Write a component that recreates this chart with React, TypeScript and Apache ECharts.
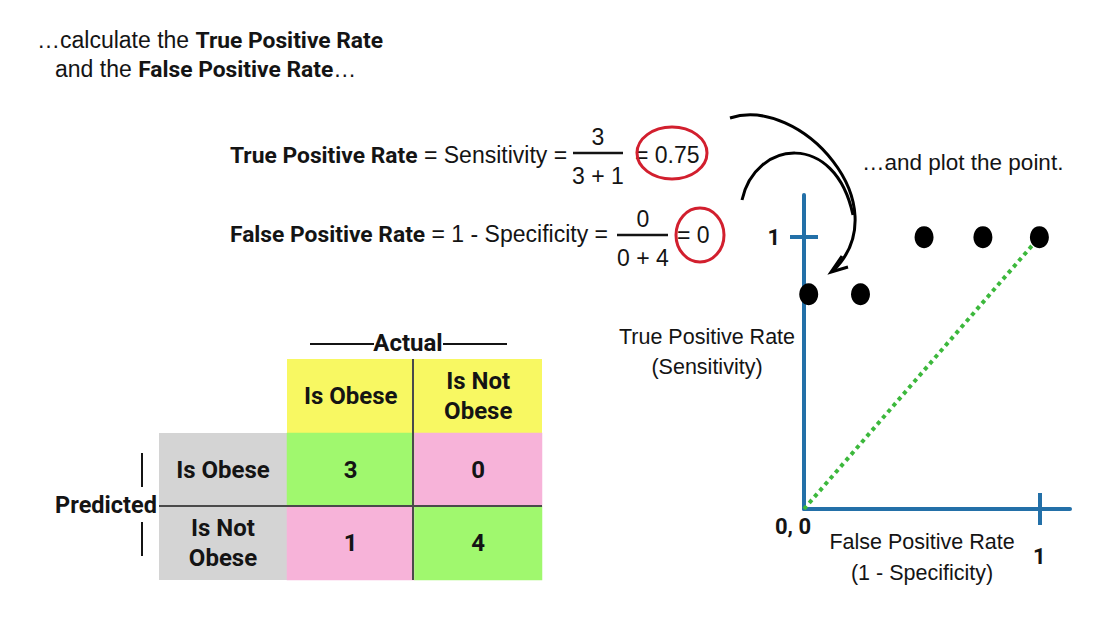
import React, { useEffect, useRef } from "react";
import * as echarts from "echarts";

// ROC points (False Positive Rate, True Positive Rate)
const fprValues = [0.02, 0.24, 0.51, 0.76, 1.0];
const tprValues = [0.79, 0.79, 1.0, 1.0, 1.0];
// Random-guess diagonal
const diagX = [0, 1];
const diagY = [0, 1];
// Confusion matrix
const actualLabels = ["Is Obese", "Is Not\nObese"];
const predictedLabels = ["Is Obese", "Is Not\nObese"];
const counts = [
  [3, 0],
  [1, 4],
];
const axisTickValues = [1];

const FONT = "'Liberation Sans', Arial, Helvetica, sans-serif";
const BFONT = "Roboto, 'Liberation Sans', Arial, sans-serif";
const INK = "#141414";
const BLUE = "#2370a8";

export default function App() {
  const ref = useRef<HTMLDivElement>(null);

  useEffect(() => {
    document.body.style.margin = "0";
    if (!ref.current) return;
    const chart = echarts.init(ref.current, null, { renderer: "svg" });

    const rich = (size: number, bsize: number) => ({
      r: { fontSize: size, fontFamily: FONT, fill: INK, color: INK },
      b: { fontSize: bsize, fontFamily: BFONT, fontWeight: "bold", fill: INK, color: INK },
    });

    const txt = (x: number, y: number, text: string, size: number, bold = false, align = "center", extra: any = {}) => ({
      type: "text",
      x,
      y,
      z: 50,
      style: {
        text,
        fill: INK,
        fontSize: size,
        fontFamily: bold ? BFONT : FONT,
        fontWeight: bold ? "bold" : "normal",
        align,
        verticalAlign: "middle",
        lineHeight: 30,
        ...extra,
      },
    });

    const ln = (x1: number, y1: number, x2: number, y2: number, w = 2, color = INK, z = 50) => ({
      type: "line",
      z,
      shape: { x1, y1, x2, y2 },
      style: { stroke: color, lineWidth: w },
    });

    const heatData: any[] = [];
    counts.forEach((row, r) =>
      row.forEach((v, c) => heatData.push([c, r, v, r === c ? 1 : 0]))
    );

    const tableLabel = { interval: 0, fontSize: 24, fontWeight: "bold", lineHeight: 30, color: INK, fontFamily: BFONT };

    const option: any = {
      animation: false,
      backgroundColor: "#ffffff",
      grid: [
        { left: 804, top: 195, width: 266, height: 314 },
        { left: 287, top: 433, width: 255, height: 147 },
      ],
      visualMap: {
        type: "piecewise",
        show: false,
        seriesIndex: 2,
        dimension: 3,
        pieces: [
          { value: 1, color: "#a0f86e" },
          { value: 0, color: "#f7b3d9" },
        ],
      },
      xAxis: [
        {
          type: "value",
          gridIndex: 0,
          min: 0,
          max: 1.13,
          position: "bottom",
          splitLine: { show: false },
          axisLine: { onZero: false, lineStyle: { color: BLUE, width: 4 } },
          axisTick: { show: true, customValues: axisTickValues, length: 16, lineStyle: { color: BLUE, width: 4 } },
          axisLabel: { customValues: axisTickValues, margin: 36, fontSize: 22, fontWeight: "bold", color: INK, fontFamily: BFONT },
          name: "False Positive Rate\n(1 - Specificity)",
          nameLocation: "middle",
          nameGap: 48,
          nameMoveOverlap: false,
          nameTextStyle: { fontSize: 21.5, fontFamily: FONT, color: INK, lineHeight: 31, align: "center", verticalAlign: "middle", padding: [0, 30, 0, 0] },
        },
        {
          type: "value",
          gridIndex: 0,
          min: 0,
          max: 1.13,
          position: "bottom",
          splitLine: { show: false },
          axisLine: { show: false, onZero: false },
          axisTick: { show: true, inside: true, customValues: axisTickValues, length: 16, lineStyle: { color: BLUE, width: 4 } },
          axisLabel: { show: false },
        },
        {
          type: "category",
          gridIndex: 1,
          data: actualLabels,
          position: "top",
          z: 20,
          axisLine: { show: false },
          axisTick: { show: false },
          splitLine: { show: false },
          axisLabel: { ...tableLabel, margin: 37, verticalAlign: "middle" },
        },
      ],
      yAxis: [
        {
          type: "value",
          gridIndex: 0,
          min: 0,
          max: 1.155,
          position: "left",
          splitLine: { show: false },
          axisLine: { onZero: false, lineStyle: { color: BLUE, width: 4 } },
          axisTick: { show: true, customValues: axisTickValues, length: 14, lineStyle: { color: BLUE, width: 4 } },
          axisLabel: { customValues: axisTickValues, margin: 24, fontSize: 22, fontWeight: "bold", color: INK, fontFamily: BFONT },
          name: "True Positive Rate\n(Sensitivity)",
          nameLocation: "middle",
          nameRotate: 0,
          nameGap: 97,
          nameMoveOverlap: false,
          nameTextStyle: { fontSize: 21.5, fontFamily: FONT, color: INK, lineHeight: 30, align: "center", verticalAlign: "middle" },
        },
        {
          type: "value",
          gridIndex: 0,
          min: 0,
          max: 1.155,
          position: "left",
          splitLine: { show: false },
          axisLine: { show: false, onZero: false },
          axisTick: { show: true, inside: true, customValues: axisTickValues, length: 14, lineStyle: { color: BLUE, width: 4 } },
          axisLabel: { show: false },
        },
        {
          type: "category",
          gridIndex: 1,
          data: predictedLabels,
          inverse: true,
          z: 20,
          axisLine: { show: false },
          axisTick: { show: false },
          splitLine: { show: false },
          axisLabel: { ...tableLabel, margin: 64, align: "center" },
        },
      ],
      series: [
        {
          type: "line",
          xAxisIndex: 0,
          yAxisIndex: 0,
          data: diagX.map((x, i) => [x, diagY[i]]),
          showSymbol: false,
          symbol: "none",
          lineStyle: { color: "#3cb83c", width: 4, type: [4, 4] },
          z: 3,
        },
        {
          type: "scatter",
          xAxisIndex: 0,
          yAxisIndex: 0,
          data: fprValues.map((x, i) => [x, tprValues[i]]),
          symbol: "circle",
          symbolSize: [19, 22],
          itemStyle: { color: "#000000", opacity: 1 },
          z: 4,
        },
        {
          type: "heatmap",
          xAxisIndex: 2,
          yAxisIndex: 2,
          data: heatData,
          encode: { x: 0, y: 1, value: 2 },
          label: {
            show: true,
            formatter: (p: any) => String(p.value[2]),
            fontSize: 24,
            fontWeight: "bold",
            color: INK,
            fontFamily: BFONT,
          },
          itemStyle: { borderWidth: 0 },
        },
      ],
      graphic: [
        {
          type: "text",
          x: 37,
          y: 40,
          style: { text: "{r|…calculate the }{b|True Positive Rate}", rich: rich(23, 22.8), verticalAlign: "middle" },
        },
        {
          type: "text",
          x: 55,
          y: 69,
          style: { text: "{r|and the }{b|False Positive Rate}{r|…}", rich: rich(23, 22.8), verticalAlign: "middle" },
        },
        {
          type: "text",
          x: 230,
          y: 155,
          style: { text: "{b|True Positive Rate}{r| = Sensitivity =}", rich: rich(23, 22.8), verticalAlign: "middle" },
        },
        ln(573, 153, 623, 153, 2.5),
        txt(598, 137, "3", 23),
        txt(598, 176, "3 + 1", 23),
        txt(635, 155, "= 0.75", 23, false, "left"),
        {
          type: "ellipse",
          z: 60,
          shape: { cx: 672, cy: 153, rx: 35, ry: 26 },
          style: { fill: "none", stroke: "#d21f2e", lineWidth: 3 },
        },
        {
          type: "text",
          x: 230,
          y: 234,
          style: { text: "{b|False Positive Rate}{r| = 1 - Specificity =}", rich: rich(23, 22.8), verticalAlign: "middle" },
        },
        ln(617, 235, 668, 235, 2.5),
        txt(643, 219, "0", 23),
        txt(643, 258, "0 + 4", 23),
        txt(677, 235, "= 0", 23, false, "left"),
        {
          type: "ellipse",
          z: 60,
          shape: { cx: 700, cy: 235, rx: 24, ry: 27 },
          style: { fill: "none", stroke: "#d21f2e", lineWidth: 3 },
        },
        txt(862, 162, "…and plot the point.", 22.5, false, "left"),
        {
          type: "bezierCurve",
          z: 60,
          shape: { x1: 730, y1: 118, cpx1: 800, cpy1: 95, cpx2: 900, cpy2: 205, x2: 833, y2: 271 },
          style: { fill: "none", stroke: "#000", lineWidth: 3 },
        },
        {
          type: "bezierCurve",
          z: 60,
          shape: { x1: 742, y1: 200, cpx1: 755, cpy1: 140, cpx2: 835, cpy2: 130, x2: 853, y2: 215 },
          style: { fill: "none", stroke: "#000", lineWidth: 3 },
        },
        {
          type: "polyline",
          z: 60,
          shape: { points: [[842, 256], [831, 272], [848, 267]] },
          style: { fill: "none", stroke: "#000", lineWidth: 3 },
        },
        txt(793, 526, "0, 0", 22, true),
        { type: "rect", z: -10, shape: { x: 287, y: 359, width: 255, height: 74 }, style: { fill: "#f8f862" } },
        { type: "rect", z: -10, shape: { x: 159, y: 433, width: 128, height: 147 }, style: { fill: "#d4d4d4" } },
        ln(413, 359, 413, 580, 2, "#4a4a4a", 100),
        ln(159, 506, 542, 506, 2, "#4a4a4a", 100),
        txt(408, 343, "Actual", 24, true),
        ln(310, 344, 374, 344, 2),
        ln(443, 344, 507, 344, 2),
        txt(106, 505, "Predicted", 23.5, true),
        ln(142, 453, 142, 487, 2),
        ln(142, 522, 142, 556, 2),
      ],
    };

    chart.setOption(option);
    return () => chart.dispose();
  }, []);

  return <div ref={ref} style={{ width: 1111, height: 631, background: "#fff" }} />;
}
